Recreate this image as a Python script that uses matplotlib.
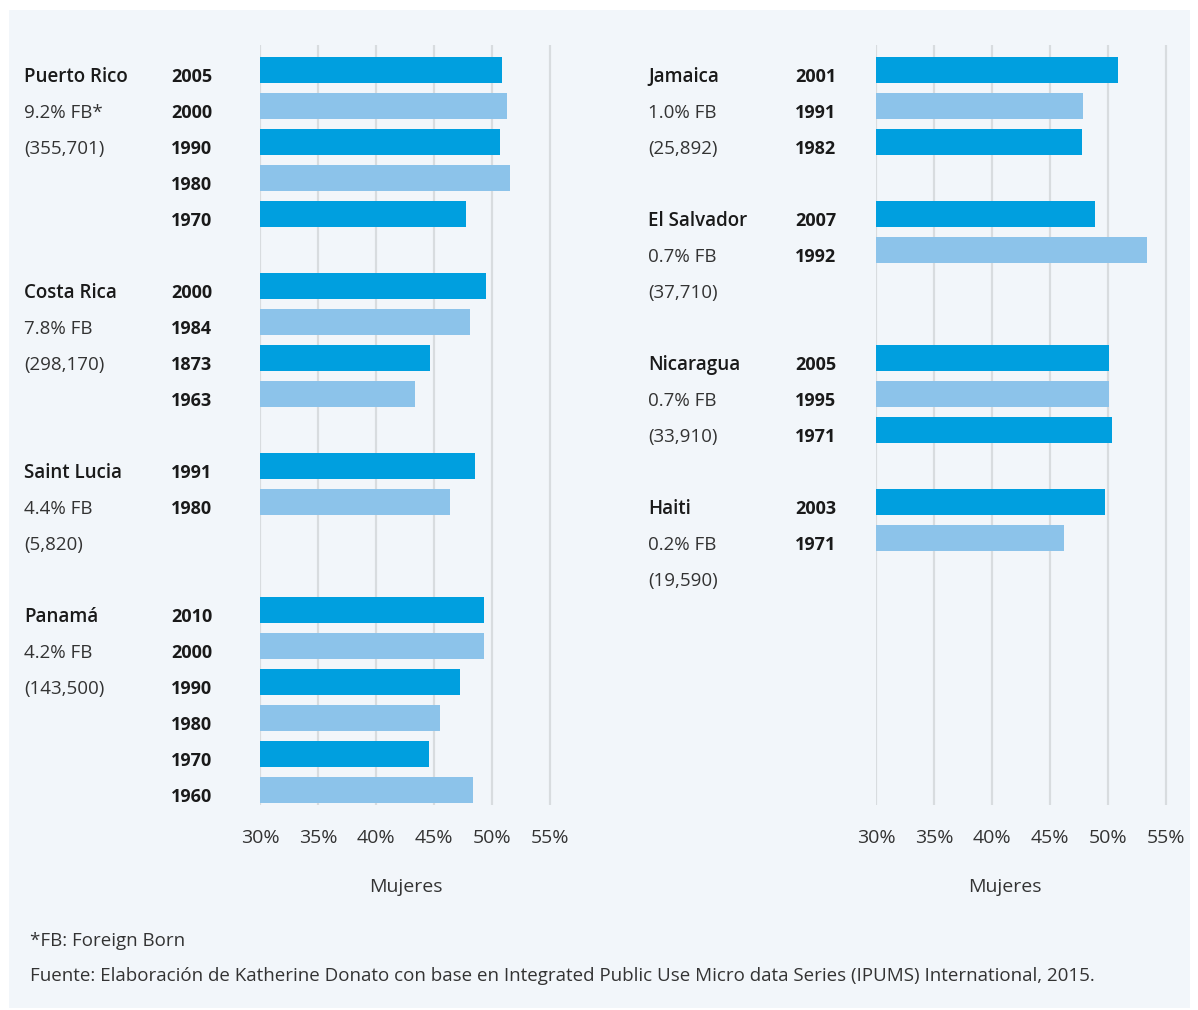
import matplotlib.pyplot as plt
from matplotlib.patches import Rectangle
from matplotlib.transforms import blended_transform_factory

plt.rcParams['font.family'] = ['Open Sans', 'DejaVu Sans']

DARK = '#009fdf'
LIGHT = '#8cc3ea'
TEXT = '#1a1a1a'

# left panel
left_countries = ['Puerto Rico', 'Costa Rica', 'Saint Lucia', 'Panamá']
left_share = ['9.2% FB*', '7.8% FB', '4.4% FB', '4.2% FB']
left_pop = ['(355,701)', '(298,170)', '(5,820)', '(143,500)']
left_years = [['2005', '2000', '1990', '1980', '1970'],
              ['2000', '1984', '1873', '1963'],
              ['1991', '1980'],
              ['2010', '2000', '1990', '1980', '1970', '1960']]
left_values = [[50.9, 51.3, 50.7, 51.6, 47.8],
               [49.5, 48.1, 44.7, 43.4],
               [48.6, 46.4],
               [49.3, 49.3, 47.3, 45.5, 44.6, 48.4]]

# right panel
right_countries = ['Jamaica', 'El Salvador', 'Nicaragua', 'Haiti']
right_share = ['1.0% FB', '0.7% FB', '0.7% FB', '0.2% FB']
right_pop = ['(25,892)', '(37,710)', '(33,910)', '(19,590)']
right_years = [['2001', '1991', '1982'],
               ['2007', '1992'],
               ['2005', '1995', '1971'],
               ['2003', '1971']]
right_values = [[50.9, 47.9, 47.8],
                [48.9, 53.4],
                [50.1, 50.1, 50.4],
                [49.8, 46.2]]

ticks = [30, 35, 40, 45, 50, 55]
tick_labels = ['30%', '35%', '40%', '45%', '50%', '55%']

DY = 0.2  # labels sit a little below the bar centres


def draw_panel(ax, countries, share, pop, years, values, x_name, x_year):
    trans = blended_transform_factory(fig.transFigure, ax.transData)
    row = 0
    for i, country in enumerate(countries):
        start = row
        for j, (yr, v) in enumerate(zip(years[i], values[i])):
            ax.barh(row, v - 30, left=30, height=0.72,
                    color=DARK if j % 2 == 0 else LIGHT, zorder=3)
            ax.text(x_year, row + DY, yr, transform=trans, ha='left', va='center',
                    fontsize=13, fontweight='bold', color=TEXT)
            row += 1
        ax.text(x_name, start + DY, country, transform=trans, ha='left',
                va='center', fontsize=13.5, fontweight='semibold', color=TEXT)
        ax.text(x_name, start + 1 + DY, share[i], transform=trans, ha='left',
                va='center', fontsize=13.5, color='#333333')
        ax.text(x_name, start + 2 + DY, pop[i], transform=trans, ha='left',
                va='center', fontsize=13.5, color='#333333')
        row = max(row, start + 3) + 1
    ax.set_xlim(30, 55.3)
    ax.set_ylim(20.42, -0.69)
    ax.set_xticks(ticks)
    ax.set_xticklabels(tick_labels, fontsize=14, color='#333333')
    ax.set_yticks([])
    ax.tick_params(axis='x', length=0, pad=17)
    ax.grid(axis='x', color='#d8dcdf', linewidth=1.6, zorder=0)
    ax.set_facecolor('none')
    for s in ax.spines.values():
        s.set_visible(False)


fig = plt.figure(figsize=(11.98, 10.10), dpi=100)
fig.patch.set_facecolor('white')
fig.patches.append(Rectangle((9 / 1198, 1 - 1008 / 1010), 1181 / 1198, 998 / 1010,
                             transform=fig.transFigure, facecolor='#f2f6fa',
                             edgecolor='none', zorder=-10))

ax1 = fig.add_axes([260 / 1198, 1 - 805 / 1010, 293 / 1198, 760 / 1010])
ax2 = fig.add_axes([876 / 1198, 1 - 805 / 1010, 293 / 1198, 760 / 1010])

draw_panel(ax1, left_countries, left_share, left_pop, left_years, left_values,
           24 / 1198, 171 / 1198)
draw_panel(ax2, right_countries, right_share, right_pop, right_years, right_values,
           648 / 1198, 795 / 1198)

fig.text(406 / 1198, 1 - 887 / 1010, 'Mujeres', ha='center', va='center',
         fontsize=14, color='#333333')
fig.text(1005 / 1198, 1 - 887 / 1010, 'Mujeres', ha='center', va='center',
         fontsize=14, color='#333333')

fig.text(30 / 1198, 1 - 941 / 1010, '*FB: Foreign Born', ha='left', va='center',
         fontsize=13.5, color='#333333')
fig.text(30 / 1198, 1 - 976 / 1010,
         'Fuente: Elaboración de Katherine Donato con base en Integrated Public Use '
         'Micro data Series (IPUMS) International, 2015.',
         ha='left', va='center', fontsize=13.5, color='#333333')

fig.savefig('out.png', dpi=100, facecolor='white')
